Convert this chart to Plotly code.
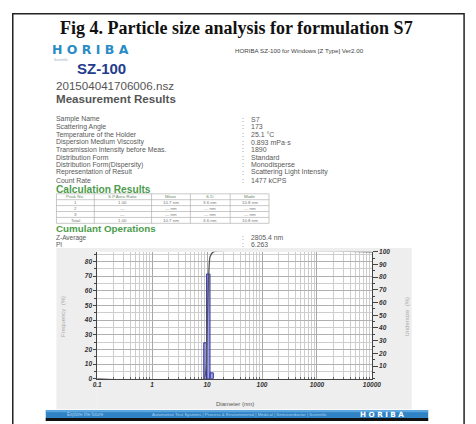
import numpy as np
import plotly.graph_objects as go

W, H = 476, 424

# ---- report data ----
title = "Fig 4. Particle size analysis for formulation S7"
header_right = "HORIBA SZ-100 for Windows [Z Type] Ver2.00"
file_name = "201504041706006.nsz"

info_labels = ["Sample Name", "Scattering Angle", "Temperature of the Holder",
               "Dispersion Medium Viscosity", "Transmission Intensity before Meas.",
               "Distribution Form", "Distribution Form(Dispersity)",
               "Representation of Result", "Count Rate"]
info_values = ["S7", "173", "25.1 \u00b0C", "0.893 mPa\u00b7s", "1890", "Standard",
               "Monodisperse", "Scattering Light Intensity", "1477 kCPS"]

table_header = ["Peak No.", "S.P.Area Ratio", "Mean", "S.D.", "Mode"]
table_rows = [["1", "1.00", "10.7 nm", "3.6 nm", "10.8 nm"],
              ["2", "---", "--- nm", "--- nm", "--- nm"],
              ["3", "---", "--- nm", "--- nm", "--- nm"],
              ["Total", "1.00", "10.7 nm", "3.6 nm", "10.8 nm"]]

cumulant_labels = ["Z-Average", "PI"]
cumulant_values = ["2805.4 nm", "6.263"]

# size distribution (intensity-weighted)
bin_edges = [8.7, 9.8, 11.3, 13.0]          # nm
frequency = [24.5, 71.5, 4.0]               # %
x_ticks = [0.1, 1, 10, 100, 1000, 10000]
x_tick_text = ["0.1", "1", "10", "100", "1000", "10000"]
freq_ticks = [0, 10, 20, 30, 40, 50, 60, 70, 80]
under_ticks = [10, 20, 30, 40, 50, 60, 70, 80, 90, 100]

footer_left = "Explore the future"
footer_mid = "Automotive Test Systems | Process & Environmental | Medical | Semiconductor | Scientific"


def px(x):
    return x / W


def py(y):
    return 1 - y / H


ann = []
shapes = []


def text(x, y, s, size, color="#555", family="Liberation Sans", bold=False,
         anchor="left", angle=0, italic=False):
    ann.append(dict(x=px(x), y=py(y), xref="paper", yref="paper", text=s,
                    showarrow=False, xanchor=anchor, yanchor="middle",
                    textangle=angle, borderpad=0,
                    font=dict(size=size, color=color, family=family,
                              weight="bold" if bold else "normal",
                              style="italic" if italic else "normal")))


def rect(x0, y0, x1, y1, fill, line=None, lw=0):
    shapes.append(dict(type="rect", xref="paper", yref="paper",
                       x0=px(x0), x1=px(x1), y0=py(y0), y1=py(y1),
                       fillcolor=fill, layer="below",
                       line=dict(color=line or fill, width=lw)))


def hline(x0, x1, y, color="#aaa", lw=0.7):
    shapes.append(dict(type="line", xref="paper", yref="paper",
                       x0=px(x0), x1=px(x1), y0=py(y), y1=py(y),
                       line=dict(color=color, width=lw)))


def vline(x, y0, y1, color="#aaa", lw=0.7):
    shapes.append(dict(type="line", xref="paper", yref="paper",
                       x0=px(x), x1=px(x), y0=py(y0), y1=py(y1),
                       line=dict(color=color, width=lw)))


# page frame
shapes.append(dict(type="rect", xref="paper", yref="paper",
                   x0=px(8), x1=px(473), y0=py(10), y1=py(440),
                   line=dict(color="#222", width=1.5), fillcolor="rgba(0,0,0,0)"))

# heading block
text(238.5, 24, title, 18, color="#111", family="Liberation Serif", bold=True, anchor="center")
text(47, 46.5, "H O R I B A", 12.5, color="#2a8cc6", family="DejaVu Sans", bold=True)
text(49, 56.5, "Scientific", 3.5, color="#9ab")
text(236, 47, header_right, 6.2, color="#444")
text(73, 66, "SZ-100", 15, color="#243c8c", family="Liberation Sans", bold=True)
text(52, 82.5, file_name, 11.6, color="#555")
text(52, 96.5, "Measurement Results", 11.6, color="#555", bold=True)

# measurement conditions
row_y = [117, 125, 132.7, 140.5, 148, 156, 163.5, 171, 179]
for lab, val, yy in zip(info_labels, info_values, row_y):
    text(52, yy, lab, 6.9, color="#585858")
    text(243, yy, ":", 6.9, color="#585858")
    text(252, yy, val, 7.0, color="#585858")

text(52, 188.3, "Calculation Results", 10.2, color="#4c9c4c", bold=True)

# results table
col_x = [53, 92, 151, 191, 232, 272]
tab_y = [193, 199, 205, 211, 217, 223]
for xx in col_x:
    vline(xx, tab_y[0], tab_y[-1], color="#a5a5a5", lw=0.6)
for yy in tab_y:
    hline(col_x[0], col_x[-1], yy, color="#a5a5a5", lw=0.6)
for j, h in enumerate(table_header):
    text((col_x[j] + col_x[j + 1]) / 2, (tab_y[0] + tab_y[1]) / 2, h, 4.4,
         color="#6a8a6a", anchor="center")
for i, row in enumerate(table_rows):
    for j, v in enumerate(row):
        text((col_x[j] + col_x[j + 1]) / 2, (tab_y[i + 1] + tab_y[i + 2]) / 2, v, 4.4,
             color="#777", anchor="center")

text(52, 228.4, "Cumulant Operations", 9.8, color="#4c9c4c", bold=True)
for lab, val, yy in zip(cumulant_labels, cumulant_values, [237.7, 244.8]):
    text(52, yy, lab, 6.5, color="#585858")
    text(243, yy, ":", 6.5, color="#585858")
    text(252, yy, val, 6.8, color="#585858")

# chart panel (grey frame around the white plot area)
PX0, PX1, PY0, PY1 = 95, 378, 252, 381
panel = "#eeeeee"
rect(53, 248, PX0, 412, panel)
rect(PX1, 248, 419, 412, panel)
rect(PX0, 248, PX1, PY0, panel)
rect(PX0, PY1, PX1, 412, panel)

text(60, 318, "Frequency  (%)", 6, color="#aaa", anchor="center", angle=-90)
text(414, 318, "Undersize  (%)", 6, color="#aaa", anchor="center", angle=-90)
text(237, 406.5, "Diameter (nm)", 6, color="#555", anchor="center")

# footer band
rect(42, 413, 436, 424, "#2f82c4")
rect(42, 413, 436, 415, "#5aa6de")
rect(42, 421, 436, 424, "#111111")
text(63, 417.5, footer_left, 4.6, color="#a9d0ee")
text(150, 417.5, footer_mid, 4.4, color="#a9d0ee")
text(365, 417.5, "H O R I B A", 7.2, color="#ffffff", family="DejaVu Sans", bold=True)

# ---- chart traces ----
bx, by = [], []
for e0, e1, f in zip(bin_edges[:-1], bin_edges[1:], frequency):
    bx += [e0, e0, e1, e1, e0, None]
    by += [0, f, f, 0, 0, None]

cum_x = [x_ticks[0]] + bin_edges + [x_ticks[-1]]
cum_y = [0] + list(np.concatenate([[0], np.cumsum(frequency)])) + [100]

fig = go.Figure()
fig.add_trace(go.Scatter(x=bx, y=by, mode="lines", fill="toself",
                         fillcolor="rgba(120,125,215,0.7)",
                         line=dict(color="#34349c", width=1), hoverinfo="skip",
                         showlegend=False))
fig.add_trace(go.Scatter(x=cum_x, y=cum_y, yaxis="y2", mode="lines",
                         line=dict(color="#555", width=1.3, shape="spline", smoothing=0.5),
                         showlegend=False))

minor_x = [m * 10.0 ** k for k in range(-1, 4) for m in range(2, 10)]
tick_font = dict(size=6.5, color="#333", family="Liberation Sans", weight="bold", style="italic")

fig.update_layout(
    width=W, height=H, autosize=False,
    margin=dict(l=0, r=0, t=0, b=0),
    paper_bgcolor="white", plot_bgcolor="white",
    shapes=shapes, annotations=ann,
    xaxis=dict(type="log", range=[-1, 4], domain=[px(PX0), px(PX1)],
               tickmode="array", tickvals=x_ticks, ticktext=x_tick_text,
               showgrid=True, gridcolor="#a8a8a8", gridwidth=0.8,
               showline=True, linecolor="#444", linewidth=0.8,
               ticks="", tickfont=tick_font, ticklabelstandoff=0,
               minor=dict(tickmode="array", tickvals=minor_x, showgrid=True,
                          gridcolor="#cdcdcd", gridwidth=0.6,
                          ticks="inside", ticklen=2, tickcolor="#666"),
               zeroline=False, fixedrange=True),
    yaxis=dict(range=[0, 86.6], domain=[py(PY1), py(PY0)],
               tickmode="array", tickvals=freq_ticks,
               showgrid=True, gridcolor="#b0b0b0", gridwidth=0.6,
               showline=True, linecolor="#444", linewidth=0.8,
               ticks="outside", ticklen=3, tickcolor="#444", tickfont=tick_font,
               minor=dict(dtick=5, showgrid=True, gridcolor="#cdcdcd", gridwidth=0.6,
                          ticks="outside", ticklen=2, tickcolor="#444"),
               zeroline=False, fixedrange=True),
    yaxis2=dict(range=[0, 100], overlaying="y", side="right", anchor="x",
                tickmode="array", tickvals=under_ticks,
                showgrid=False, showline=True, linecolor="#444", linewidth=0.8,
                ticks="outside", ticklen=5, tickcolor="#444", tickfont=tick_font,
                minor=dict(dtick=5, ticks="outside", ticklen=2, tickcolor="#444"),
                zeroline=False, fixedrange=True),
)

fig.write_html("out.html")
